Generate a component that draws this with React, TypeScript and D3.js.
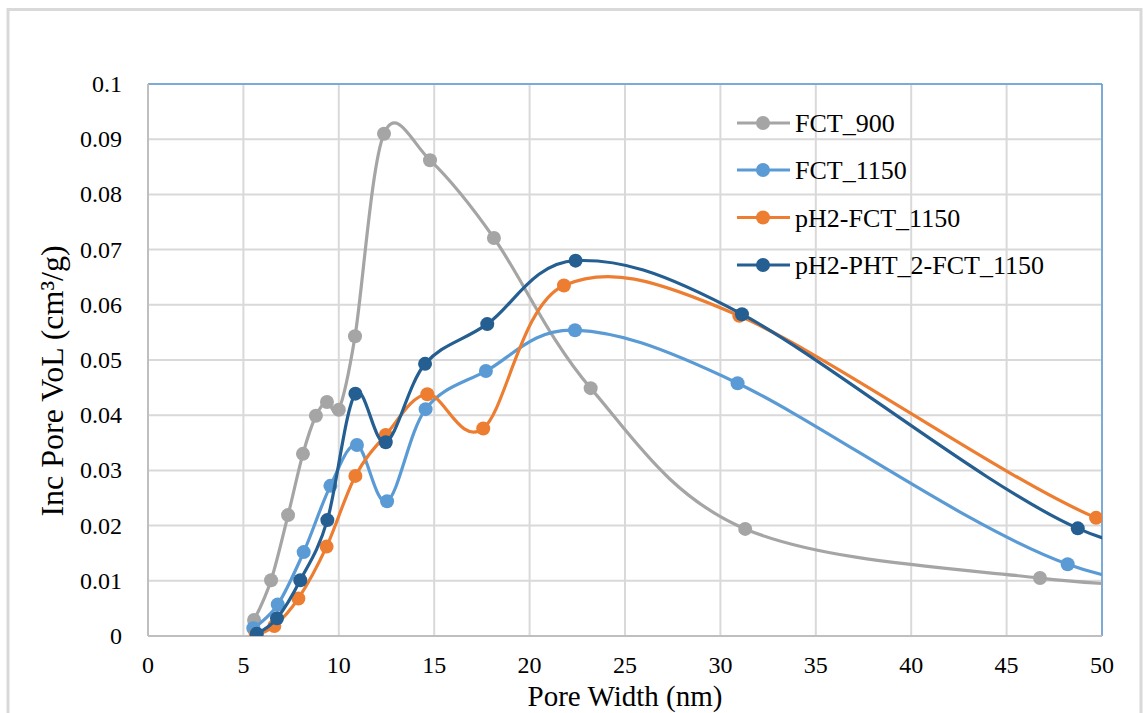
import React from "react";
import * as d3 from "d3";

const W = 1143;
const H = 713;

const seriesNames = ["FCT_900", "FCT_1150", "pH2-FCT_1150", "pH2-PHT_2-FCT_1150"];
const seriesColors = ["#a5a5a5", "#5b9bd5", "#ed7d31", "#255e91"];

// x = pore width (nm), y = inc pore volume (cm3/g); last point of each lies beyond the axis (clipped)
const fct900X = [5.56, 6.45, 7.34, 8.12, 8.8, 9.38, 10.0, 10.85, 12.37, 14.78, 18.13, 23.2, 31.3, 46.75, 62];
const fct900Y = [0.0029, 0.0101, 0.0219, 0.033, 0.0399, 0.0424, 0.041, 0.0543, 0.091, 0.0862, 0.0721, 0.0449, 0.0194, 0.0105, 0.0076];

const fct1150X = [5.52, 6.8, 8.16, 9.56, 10.95, 12.53, 14.55, 17.71, 22.38, 30.9, 48.2, 62];
const fct1150Y = [0.0014, 0.0057, 0.0152, 0.0272, 0.0346, 0.0244, 0.0411, 0.048, 0.0554, 0.0458, 0.013, 0.0068];

const ph2X = [5.65, 6.62, 7.88, 9.36, 10.87, 12.46, 14.64, 17.57, 21.8, 30.99, 49.69, 60];
const ph2Y = [0.0003, 0.0018, 0.0068, 0.0162, 0.029, 0.0364, 0.0438, 0.0376, 0.0635, 0.058, 0.0214, 0.0155];

const phtX = [5.7, 6.76, 7.98, 9.4, 10.87, 12.46, 14.52, 17.78, 22.41, 31.13, 48.73, 60];
const phtY = [0.0004, 0.0032, 0.0101, 0.021, 0.0439, 0.0351, 0.0493, 0.0565, 0.068, 0.0583, 0.0195, 0.014];

const xTicks = [0, 5, 10, 15, 20, 25, 30, 35, 40, 45, 50];
const yTicks = [0, 0.01, 0.02, 0.03, 0.04, 0.05, 0.06, 0.07, 0.08, 0.09, 0.1];

const seriesX = [fct900X, fct1150X, ph2X, phtX];
const seriesY = [fct900Y, fct1150Y, ph2Y, phtY];

export default function App() {
  const left = 148, right = 1102, top = 84, bottom = 636;
  const x = d3.scaleLinear().domain([0, 50]).range([left, right]);
  const y = d3.scaleLinear().domain([0, 0.1]).range([bottom, top]);
  const line = d3
    .line<[number, number]>()
    .x((d) => x(d[0]))
    .y((d) => y(d[1]))
    .curve(d3.curveCatmullRom.alpha(0));

  const font = "Liberation Serif, Times New Roman, serif";
  const legendY = [123, 170, 217.5, 265];

  return (
    <svg
      width={W}
      height={H}
      style={{ position: "absolute", left: 0, top: 0, background: "#fff" }}
      fontFamily={font}
    >
      <defs>
        <clipPath id="plotClip">
          <rect x={left} y={top - 10} width={right - left} height={bottom - top + 10} />
        </clipPath>
      </defs>
      <rect x={0} y={0} width={W} height={H} fill="#fff" />
      <rect x={8} y={9.5} width={1133} height={720} fill="none" stroke="#d9d9d9" strokeWidth={3} />

      {/* gridlines */}
      {xTicks.slice(1).map((t) => (
        <line key={"gx" + t} x1={x(t)} x2={x(t)} y1={top} y2={bottom} stroke="#d9d9d9" strokeWidth={2} />
      ))}
      {yTicks.slice(1).map((t) => (
        <line key={"gy" + t} x1={left} x2={right} y1={y(t)} y2={y(t)} stroke="#d9d9d9" strokeWidth={2} />
      ))}
      {/* plot border */}
      <line x1={left} x2={right} y1={top} y2={top} stroke="#5b9bd5" strokeWidth={1.5} />
      <line x1={right} x2={right} y1={top} y2={bottom} stroke="#5b9bd5" strokeWidth={1.5} />
      <line x1={left} x2={left} y1={top} y2={bottom} stroke="#bfbfbf" strokeWidth={2} />
      <line x1={left} x2={right} y1={bottom} y2={bottom} stroke="#bfbfbf" strokeWidth={2} />

      {/* tick labels */}
      {yTicks.map((t) => (
        <text key={"yl" + t} x={122} y={y(t) + 8} textAnchor="end" fontSize={24} fill="#000">
          {String(t)}
        </text>
      ))}
      {xTicks.map((t) => (
        <text key={"xl" + t} x={x(t)} y={673} textAnchor="middle" fontSize={24} fill="#000">
          {String(t)}
        </text>
      ))}

      {/* axis titles */}
      <text x={625} y={706} textAnchor="middle" fontSize={29} fill="#000">
        Pore Width (nm)
      </text>
      <text
        transform={`translate(63,381) rotate(-90)`}
        textAnchor="middle"
        fontSize={32}
        fill="#000"
      >
        Inc Pore VoL (cm³/g)
      </text>

      {/* series */}
      <g clipPath="url(#plotClip)">
        {seriesNames.map((name, i) => {
          const pts: [number, number][] = seriesX[i].map((v, j) => [v, seriesY[i][j]]);
          return (
            <g key={name}>
              <path d={line(pts) || ""} fill="none" stroke={seriesColors[i]} strokeWidth={3.2} />
              {pts.map((p, j) => (
                <circle key={j} cx={x(p[0])} cy={y(p[1])} r={7} fill={seriesColors[i]} />
              ))}
            </g>
          );
        })}
      </g>

      {/* legend */}
      {seriesNames.map((name, i) => (
        <g key={"lg" + name}>
          <line x1={737} x2={790} y1={legendY[i]} y2={legendY[i]} stroke={seriesColors[i]} strokeWidth={3.2} />
          <circle cx={763} cy={legendY[i]} r={7} fill={seriesColors[i]} />
          <text x={795} y={legendY[i] + 9} fontSize={26} fill="#000">
            {name}
          </text>
        </g>
      ))}
    </svg>
  );
}
